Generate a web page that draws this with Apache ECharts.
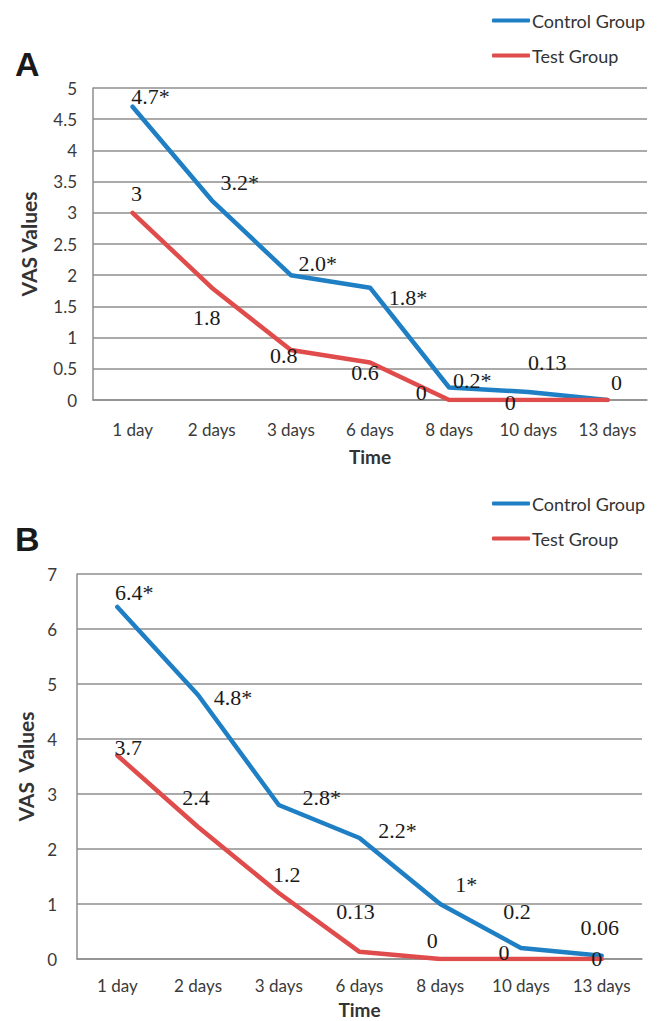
<!DOCTYPE html>
<html>
<head>
<meta charset="utf-8">
<script src="https://cdn.jsdelivr.net/npm/echarts@6/dist/echarts.min.js"></script>
<style>
html,body{margin:0;padding:0;background:#fff;}
#chart{width:663px;height:1021px;}
</style>
</head>
<body>
<div id="chart"></div>
<script>
// ---- data ----
var categories = ['1 day', '2 days', '3 days', '6 days', '8 days', '10 days', '13 days'];
var seriesNames = ['Control Group', 'Test Group'];

// Panel A
var controlA = [4.7, 3.2, 2.0, 1.8, 0.2, 0.13, 0];
var testA = [3, 1.8, 0.8, 0.6, 0, 0, 0];
var controlLabelsA = ['4.7*', '3.2*', '2.0*', '1.8*', '0.2*', '0.13', '0'];
var testLabelsA = ['3', '1.8', '0.8', '0.6', '0', '0', ''];

// Panel B
var controlB = [6.4, 4.8, 2.8, 2.2, 1, 0.2, 0.06];
var testB = [3.7, 2.4, 1.2, 0.13, 0, 0, 0];
var controlLabelsB = ['6.4*', '4.8*', '2.8*', '2.2*', '1*', '0.2', '0.06'];
var testLabelsB = ['3.7', '2.4', '1.2', '0.13', '0', '0', '0'];

// y-axis ranges
var yMaxA = 5, yStepA = 0.5;
var yMaxB = 7, yStepB = 1;

// ---- label placement (pixel offsets from each point) ----
var ctrlOffA = [[18, -10], [28, -18], [27, -12], [38, 10], [23, -7], [19, -29], [9, -18]];
var testOffA = [[4, -19], [-5, 30], [-7, 5], [-5, 10], [-28, -8], [-18, 2], [0, 0]];
var ctrlOffB = [[17, -15], [35, 2], [43, -8], [38, -8], [26, -20], [-4, -37], [-2, -28]];
var testOffB = [[11, -8], [-2, -30], [8, -19], [-4, -40], [-8, -19], [-17, -7], [-5, -1]];

var BLUE = '#1f7fc4';
var RED = '#e04b4b';
var GRID = '#8e8e8e';
var LABEL_FONT = '"Liberation Serif", "DejaVu Serif", serif';
var SANS = 'Lato, "Open Sans", sans-serif';

function buildData(values, labels, offsets) {
  return values.map(function (v, i) {
    return {
      value: v,
      label: {
        show: labels[i] !== '',
        formatter: labels[i],
        offset: offsets[i]
      }
    };
  });
}

function lineSeries(name, color, values, labels, offsets, idx) {
  return {
    name: name,
    type: 'line',
    xAxisIndex: idx,
    yAxisIndex: idx,
    data: buildData(values, labels, offsets),
    color: color,
    symbol: 'circle',
    symbolSize: 1,
    showSymbol: true,
    lineStyle: { color: color, width: 4.5, join: 'round', cap: 'round' },
    itemStyle: { color: color },
    label: {
      show: true,
      position: 'inside',
      fontFamily: LABEL_FONT,
      fontSize: 22,
      color: '#1a1a1a'
    },
    emphasis: { disabled: true },
    animation: false,
    z: name === 'Control Group' ? 3 : 4
  };
}

function xAxisCfg(idx, nameGap, labelMargin) {
  return {
    type: 'category',
    gridIndex: idx,
    data: categories,
    boundaryGap: true,
    name: 'Time',
    nameLocation: 'middle',
    nameGap: nameGap,
    nameTextStyle: { fontFamily: SANS, fontWeight: 'bold', fontSize: 19, color: '#333' },
    axisLine: { show: true, lineStyle: { color: GRID, width: 1.5 } },
    axisTick: { show: false },
    axisLabel: { fontFamily: SANS, fontSize: 17, color: '#3a3a3a', margin: labelMargin, interval: 0 },
    splitLine: { show: false }
  };
}

function yAxisCfg(idx, max, step, name, nameGap, labelMargin) {
  return {
    type: 'value',
    gridIndex: idx,
    min: 0,
    max: max,
    interval: step,
    name: name,
    nameLocation: 'middle',
    nameGap: nameGap,
    nameRotate: 90,
    nameTextStyle: { fontFamily: SANS, fontWeight: 'bold', fontSize: 21, color: '#333' },
    axisLine: { show: true, lineStyle: { color: GRID, width: 1.5 } },
    axisTick: { show: false },
    axisLabel: { fontFamily: SANS, fontSize: 17, color: '#3a3a3a', margin: labelMargin },
    splitLine: { show: true, lineStyle: { color: GRID, width: 1.5 } }
  };
}

function legendCfg(top) {
  return {
    data: seriesNames,
    orient: 'vertical',
    left: 487,
    top: top,
    itemGap: 16,
    itemWidth: 38,
    itemHeight: 4,
    icon: 'roundRect',
    selectedMode: false,
    textStyle: { fontFamily: SANS, fontSize: 18, lineHeight: 19, color: '#333', padding: [0, 0, 0, -3] }
  };
}

var chart = echarts.init(document.getElementById('chart'), null, { renderer: 'svg' });
chart.setOption({
  animation: false,
  backgroundColor: '#ffffff',
  title: [
    { text: 'A', left: 10, top: 42, textStyle: { fontFamily: '"Liberation Sans", Arial, sans-serif', fontWeight: 'bold', fontSize: 34, color: '#1a1a1a' } },
    { text: 'B', left: 10, top: 517, textStyle: { fontFamily: '"Liberation Sans", Arial, sans-serif', fontWeight: 'bold', fontSize: 34, color: '#1a1a1a' } }
  ],
  legend: [legendCfg(6), legendCfg(489)],
  grid: [
    { left: 93, top: 88, width: 554, height: 312 },
    { left: 77, top: 574, width: 565, height: 385 }
  ],
  xAxis: [xAxisCfg(0, 47, 21), xAxisCfg(1, 41, 18)],
  yAxis: [
    yAxisCfg(0, yMaxA, yStepA, 'VAS Values', 54, 16),
    yAxisCfg(1, yMaxB, yStepB, 'VAS  Values', 40, 20)
  ],
  series: [
    lineSeries(seriesNames[0], BLUE, controlA, controlLabelsA, ctrlOffA, 0),
    lineSeries(seriesNames[1], RED, testA, testLabelsA, testOffA, 0),
    lineSeries(seriesNames[0], BLUE, controlB, controlLabelsB, ctrlOffB, 1),
    lineSeries(seriesNames[1], RED, testB, testLabelsB, testOffB, 1)
  ]
});
</script>
</body>
</html>
